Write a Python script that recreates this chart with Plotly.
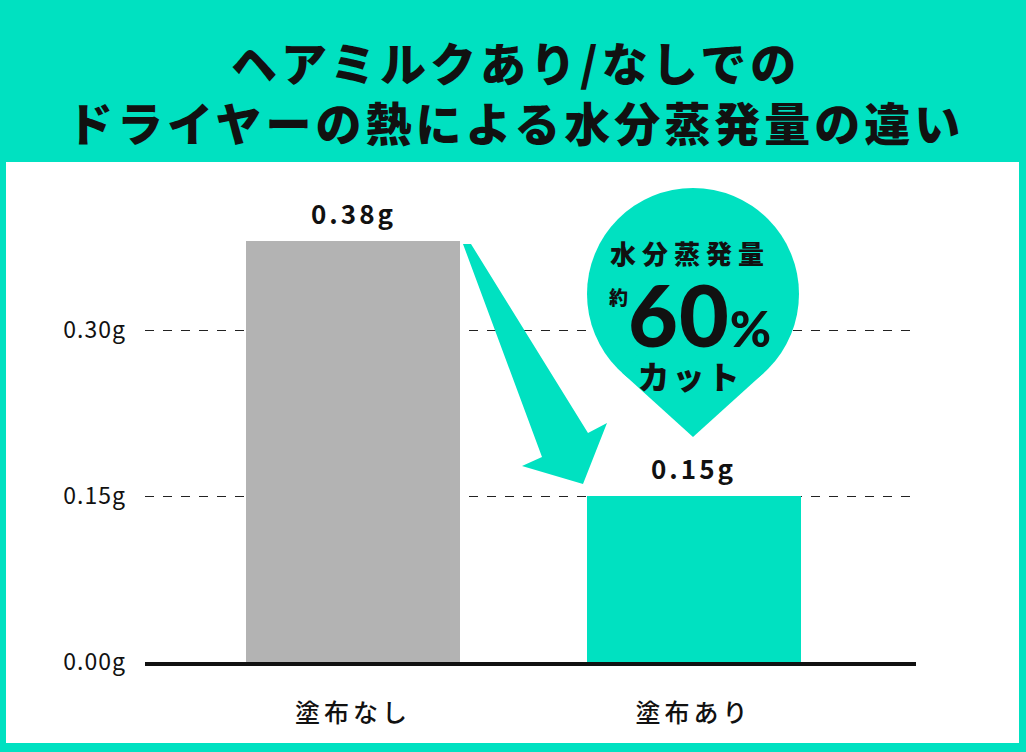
import plotly.graph_objects as go

# ---- data ----
categories = ["塗布なし", "塗布あり"]
values = [0.38, 0.15]
bar_colors = ["#B3B3B3", "#00E1C1"]
value_labels = ["0.38g", "0.15g"]
tick_values = [0.0, 0.15, 0.30]
tick_labels = ["0.00g", "0.15g", "0.30g"]
title_lines = ["ヘアミルクあり/なしでの", "ドライヤーの熱による水分蒸発量の違い"]
callout_lines = ["水分蒸発量", "約", "60", "%", "カット"]

W, H = 1026, 752
L, R, T, B = 145, 110, 164, 90
PW, PH = W - L - R, H - T - B
TEAL = "#00E1C1"
FONT = "Noto Sans CJK JP"


def X(px):
    return (px - L) / PW


def Y(py):
    return (H - B - py) / PH


def sp(text, ls, extra=""):
    return f"<span style='letter-spacing:{ls}px;{extra}'>{text}</span>"


fig = go.Figure()
fig.add_trace(go.Bar(
    x=categories, y=values, marker=dict(color=bar_colors, line=dict(width=0)),
    width=0.628, hoverinfo="skip", showlegend=False,
))

shapes = []
# white panel
shapes.append(dict(type="rect", xref="paper", yref="paper",
                   x0=X(6), x1=X(1019), y0=Y(743), y1=Y(162),
                   fillcolor="white", line=dict(width=0), layer="below"))
# arrow
arrow_pts = [(463, 244), (471, 244), (588, 433), (607, 423), (583, 484),
             (522, 466), (542, 457)]
path = "M " + " L ".join(f"{X(a):.5f},{Y(b):.5f}" for a, b in arrow_pts) + " Z"
shapes.append(dict(type="path", xref="paper", yref="paper", path=path,
                   fillcolor=TEAL, line=dict(width=0), layer="above"))
# balloon
cx, cy, r = 693, 294, 106
shapes.append(dict(type="circle", xref="paper", yref="paper",
                   x0=X(cx - r), x1=X(cx + r), y0=Y(cy + r), y1=Y(cy - r),
                   fillcolor=TEAL, line=dict(width=0), layer="above"))
tri = [(cx - 71.2, cy + 78.5), (cx, 437), (cx + 71.2, cy + 78.5), (cx, cy)]
path2 = "M " + " L ".join(f"{X(a):.5f},{Y(b):.5f}" for a, b in tri) + " Z"
shapes.append(dict(type="path", xref="paper", yref="paper", path=path2,
                   fillcolor=TEAL, line=dict(width=0), layer="above"))

annotations = []
# title (two lines)
annotations.append(dict(text="<br>".join(sp(t, 4) for t in title_lines),
                        xref="paper", yref="paper",
                        x=X(515), y=Y(91), xanchor="center", yanchor="middle",
                        showarrow=False, align="center",
                        font=dict(family=FONT, size=46, color="#111111", weight=900)))
# value labels
for c, v, lab in zip(categories, values, value_labels):
    annotations.append(dict(text=sp(lab, 3), x=c, y=v, xref="x", yref="y",
                            xanchor="center", yanchor="bottom", yshift=8,
                            showarrow=False,
                            font=dict(family=FONT, size=26, color="#111111", weight=700)))
# callout text (single block)
callout = (
    sp(callout_lines[0], 6, "font-size:26px") + "<br>&nbsp;<br>"
    + sp(callout_lines[1], 0, "font-size:19px;baseline-shift:42px")
    + sp(callout_lines[2], 1, "font-family:Lato;font-size:86px")
    + sp(callout_lines[3], 0, "font-family:Lato;font-size:50px")
    + "<br>" + sp(callout_lines[4], 3, "font-size:32px")
)
annotations.append(dict(text=callout, xref="paper", yref="paper",
                        x=X(690), y=Y(316), xanchor="center", yanchor="middle",
                        showarrow=False, align="center",
                        font=dict(family=FONT, size=32, color="#111111", weight=900)))

fig.update_layout(
    width=W, height=H,
    margin=dict(l=L, r=R, t=T, b=B, pad=0),
    paper_bgcolor=TEAL, plot_bgcolor="white",
    shapes=shapes, annotations=annotations,
    bargap=0,
    xaxis=dict(range=[-0.611, 1.653], showgrid=False, zeroline=False,
               showline=True, linecolor="#111111", linewidth=4,
               ticks="", ticklabelstandoff=26,
               tickmode="array", tickvals=categories,
               ticktext=[sp(c, 4) for c in categories],
               tickfont=dict(family=FONT, size=25, color="#111111", weight=500)),
    yaxis=dict(range=[0, 0.45], tickvals=tick_values,
               ticktext=[sp(t, 1) for t in tick_labels],
               showgrid=True, gridcolor="#222222", gridwidth=1, griddash="dash",
               zeroline=False, showline=False, ticks="", ticklabelstandoff=18,
               tickfont=dict(family=FONT, size=23, color="#111111")),
)

fig.write_html("out.html", config={"displayModeBar": False},
               post_script="document.body.style.margin='0';")
